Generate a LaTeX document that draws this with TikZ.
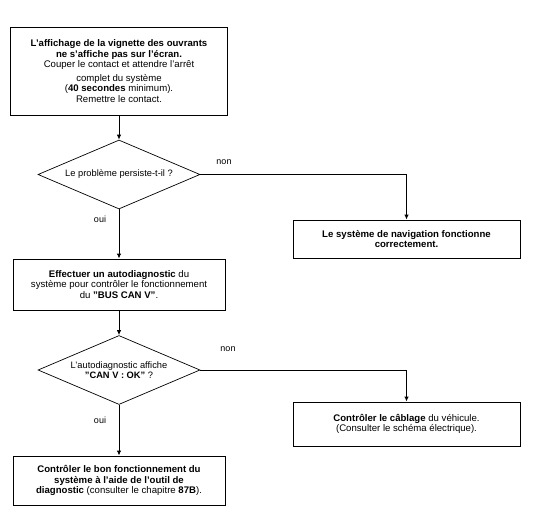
\documentclass[tikz,border=0pt]{standalone}
\usepackage{fontspec}
\setmainfont{Liberation Sans}
\usepackage{tikz}
\usetikzlibrary{arrows.meta,positioning,shapes}

\begin{document}
\begin{tikzpicture}[x=1pt,y=-1pt,
    boite/.style={draw,line width=0.9pt,align=center,inner sep=2pt,
      font=\fontsize{9.6}{10.6}\selectfont},
    losange/.style={draw,diamond,line width=0.7pt,align=center,inner sep=0pt,
      aspect=2.35,minimum width=162pt,minimum height=69pt,
      font=\fontsize{9.3}{10.6}\selectfont},
    fleche/.style={line width=0.9pt,-{Latex[length=5pt,width=4.5pt]}},
    etiq/.style={font=\fontsize{9}{10}\selectfont}]
    \useasboundingbox (0,0) rectangle (535,506);

    % Etapes
    \node[boite,minimum width=217pt,minimum height=88pt] (affichage) at (119,71)
      {\textbf{L'affichage de la vignette des ouvrants}\\
       \textbf{ne s'affiche pas sur l'écran.}\\
       Couper le contact et attendre l'arrêt\\[3pt]
       complet du système\\
       (\textbf{40 secondes} minimum).\\
       Remettre le contact.};
    \node[losange] (persiste) at (119,174.5) {Le problème persiste-t-il ?};
    \node[boite,minimum width=227pt,minimum height=38pt] (navok) at (406.5,239)
      {\textbf{Le système de navigation fonctionne}\\
       \textbf{correctement.}};
    \node[boite,minimum width=212pt,minimum height=51pt] (autodiag) at (119,284.5)
      {\textbf{Effectuer un autodiagnostic} du\\
       système pour contrôler le fonctionnement\\
       du \textbf{"BUS CAN V"}.};
    \node[losange] (canok) at (119,370)
      {L'autodiagnostic affiche\\ \textbf{"CAN V : OK"} ?};
    \node[boite,minimum width=227pt,minimum height=44pt] (cablage) at (406.5,424)
      {\textbf{Contrôler le câblage} du véhicule.\\
       (Consulter le schéma électrique).};
    \node[boite,minimum width=212pt,minimum height=49pt] (outil) at (119,480.5)
      {\textbf{Contrôler le bon fonctionnement du}\\
       \textbf{système à l'aide de l'outil de}\\
       \textbf{diagnostic} (consulter le chapitre \textbf{87B}).};

    % Liaisons
    \draw[fleche] (affichage) -- (persiste);
    \draw[fleche] (persiste.east) -| (navok.north);
    \draw[fleche] (persiste) -- (autodiag);
    \draw[fleche] (autodiag) -- (canok);
    \draw[fleche] (canok.east) -| (cablage.north);
    \draw[fleche] (canok) -- (outil);

    % Reponses
    \node[etiq] (non1) at (224,162) {non};
    \node[etiq] (oui1) at (100,219) {oui};
    \node[etiq] (non2) at (228,349) {non};
    \node[etiq] (oui2) at (100,420) {oui};
\end{tikzpicture}
\end{document}
